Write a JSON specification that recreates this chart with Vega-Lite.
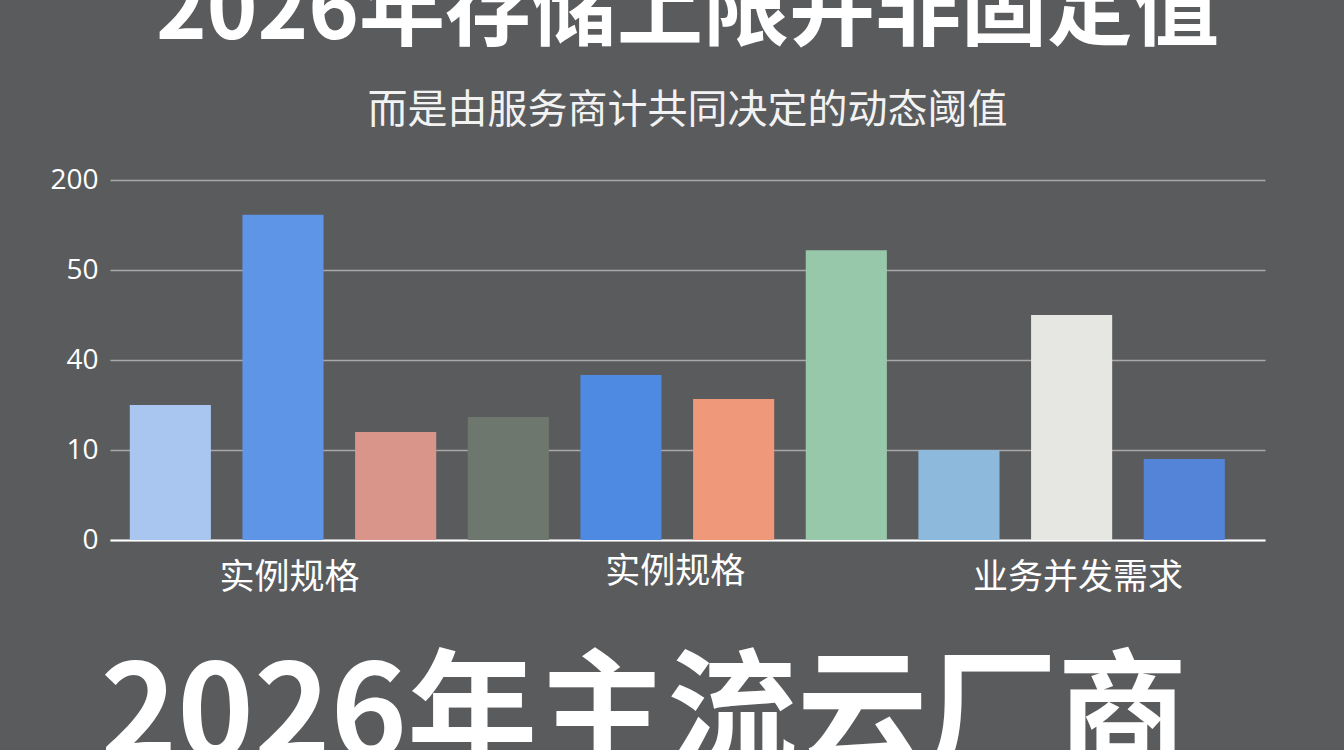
{
  "$schema": "https://vega.github.io/schema/vega-lite/v6.json",
  "autosize": "none",
  "width": 1155,
  "height": 360,
  "padding": {"left": 110, "top": 180, "right": 79, "bottom": 210},
  "background": "#5a5b5d",
  "title": {
    "text": "2026年存储上限并非固定值",
    "subtitle": "而是由服务商计共同决定的动态阈值",
    "anchor": "middle",
    "font": "Noto Sans CJK SC",
    "fontSize": 86,
    "fontWeight": "bold",
    "color": "#ffffff",
    "subtitleFont": "Noto Sans CJK SC",
    "subtitleFontSize": 40,
    "subtitleColor": "#f2f2f2",
    "subtitlePadding": 34,
    "offset": 34
  },
  "data": {
    "values": [
      {"id": "b1", "group": "实例规格", "value": 25},
      {"id": "b2", "group": "实例规格", "value": 142},
      {"id": "b3", "group": "实例规格", "value": 16},
      {"id": "b4", "group": "实例规格 ", "value": 21},
      {"id": "b5", "group": "实例规格 ", "value": 35},
      {"id": "b6", "group": "实例规格 ", "value": 27},
      {"id": "b7", "group": "实例规格 ", "value": 83},
      {"id": "b8", "group": "业务并发需求", "value": 10},
      {"id": "b9", "group": "业务并发需求", "value": 45},
      {"id": "b10", "group": "业务并发需求", "value": 9}
    ]
  },
  "encoding": {
    "x": {
      "field": "id",
      "type": "nominal",
      "sort": null,
      "scale": {"paddingInner": 0.28, "paddingOuter": 0.266, "align": 0.33},
      "axis": {
        "labels": false,
        "ticks": false,
        "grid": false,
        "domain": true,
        "domainColor": "#ffffff",
        "domainWidth": 2,
        "title": "2026年主流云厂商",
        "titleFont": "Noto Sans CJK SC",
        "titleFontSize": 130,
        "titleFontWeight": "bold",
        "titleColor": "#ffffff",
        "titleAlign": "left",
        "titleAnchor": "start",
        "titleBaseline": "top",
        "titleX": -10,
        "titleY": 114
      }
    }
  },
  "layer": [
    {
      "mark": {"type": "bar"},
      "encoding": {
        "y": {
          "field": "value",
          "type": "quantitative",
          "scale": {"domain": [0, 10, 40, 50, 200], "range": [360, 270, 180, 90, 0], "nice": false, "zero": false},
          "axis": {
            "values": [0, 10, 40, 50, 200],
            "title": null,
            "domain": false,
            "ticks": false,
            "labelFont": "Open Sans",
            "labelFontSize": 28,
            "labelColor": "#ffffff",
            "labelPadding": 12,
            "gridColor": "#bdbdbd",
            "gridWidth": 1.3,
            "gridOpacity": 0.8
          }
        },
        "color": {
          "field": "id",
          "type": "nominal",
          "sort": null,
          "scale": {
            "domain": ["b1", "b2", "b3", "b4", "b5", "b6", "b7", "b8", "b9", "b10"],
            "range": ["#a9c6f0", "#5f95e6", "#d9958a", "#6e776e", "#4f8ae2", "#f0987a", "#98c8aa", "#8db9dd", "#e6e6e2", "#5484d8"]
          },
          "legend": null
        }
      }
    },
    {
      "transform": [{"filter": "datum.id === 'b2' || datum.id === 'b9'"}],
      "mark": {"type": "text", "font": "Noto Sans CJK SC", "fontSize": 35, "color": "#ffffff", "baseline": "middle", "dy": 38},
      "encoding": {
        "x": {"field": "id", "type": "nominal", "sort": null, "bandPosition": 0.58},
        "y": {"datum": 0},
        "text": {"field": "group"}
      }
    },
    {
      "transform": [{"filter": "datum.id === 'b5'"}],
      "mark": {"type": "text", "font": "Noto Sans CJK SC", "fontSize": 35, "color": "#ffffff", "baseline": "middle", "dy": 32},
      "encoding": {
        "x": {"field": "id", "type": "nominal", "sort": null, "bandPosition": 1.17},
        "y": {"datum": 0},
        "text": {"field": "group"}
      }
    }
  ],
  "config": {
    "view": {"stroke": null},
    "axis": {"labelFont": "Noto Sans CJK SC"}
  }
}
